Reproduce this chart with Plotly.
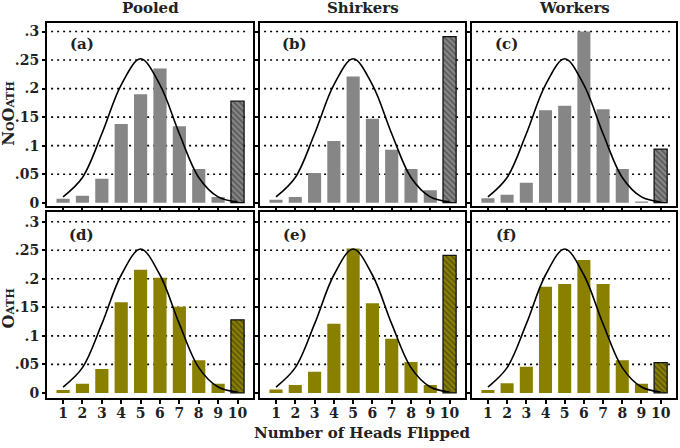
import plotly.graph_objects as go

heads = [1, 2, 3, 4, 5, 6, 7, 8, 9, 10]
tick_labels = ["1", "2", "3", "4", "5", "6", "7", "8", "9", "10"]

pooled_nooath = [0.007, 0.012, 0.042, 0.138, 0.190, 0.235, 0.134, 0.059, 0.010, 0.178]
shirkers_nooath = [0.005, 0.010, 0.052, 0.108, 0.221, 0.147, 0.093, 0.059, 0.022, 0.291]
workers_nooath = [0.008, 0.014, 0.035, 0.162, 0.170, 0.300, 0.164, 0.059, 0.002, 0.094]
pooled_oath = [0.005, 0.016, 0.042, 0.159, 0.216, 0.202, 0.151, 0.057, 0.016, 0.128]
shirkers_oath = [0.006, 0.014, 0.037, 0.121, 0.253, 0.157, 0.095, 0.054, 0.014, 0.241]
workers_oath = [0.005, 0.017, 0.046, 0.186, 0.191, 0.233, 0.191, 0.057, 0.016, 0.053]

# reference (normal) curve read at integer heads
reference_curve = [0.0103, 0.0443, 0.1209, 0.2066, 0.2523, 0.2066, 0.1209, 0.0443, 0.0103, 0.0017]

y_tickvals = [0, 0.05, 0.1, 0.15, 0.2, 0.25, 0.3]
y_ticktext = ["0", ".05", ".1", ".15", ".2", ".25", ".3"]
grid_vals = [0.05, 0.1, 0.15, 0.2, 0.25, 0.3]

col_titles = ["Pooled", "Shirkers", "Workers"]
panel_labels = ["(a)", "(b)", "(c)", "(d)", "(e)", "(f)"]

GREY = "#868686"
OLIVE = "#8a8000"
FONT = "DejaVu Serif"
W, H = 680, 448

col_px = [(47, 253), (260, 465), (472, 676)]
row_px = [(23, 208), (214, 402)]
row_ranges = [[-0.0052, 0.3154], [-0.0081, 0.3177]]

data = [[pooled_nooath, shirkers_nooath, workers_nooath],
        [pooled_oath, shirkers_oath, workers_oath]]
colors = [GREY, OLIVE]

fig = go.Figure()
layout = {}
shapes = []
annotations = []

idx = 0
for r in range(2):
    for c in range(3):
        idx += 1
        xa = "x" if idx == 1 else f"x{idx}"
        ya = "y" if idx == 1 else f"y{idx}"
        xkey = "xaxis" if idx == 1 else f"xaxis{idx}"
        ykey = "yaxis" if idx == 1 else f"yaxis{idx}"
        vals = data[r][c]
        col = colors[r]
        fig.add_trace(go.Bar(
            x=heads, y=vals, xaxis=xa, yaxis=ya, width=0.68,
            marker=dict(
                color=col,
                line=dict(color=["rgba(0,0,0,0)"] * 9 + ["#111111"], width=[0] * 9 + [1.3]),
                pattern=dict(shape=[""] * 9 + ["\\"], fgcolor="#1a1a1a", bgcolor=col,
                             size=4, solidity=0.35),
            ),
            showlegend=False, hoverinfo="skip",
        ))
        fig.add_trace(go.Scatter(
            x=heads, y=reference_curve, xaxis=xa, yaxis=ya, mode="lines",
            line=dict(color="black", width=1.6, shape="spline", smoothing=1.0),
            showlegend=False, hoverinfo="skip",
        ))
        x0, x1 = col_px[c]
        t0, t1 = row_px[r]
        layout[xkey] = dict(
            domain=[x0 / W, x1 / W], range=[0.17, 10.8], anchor=ya,
            tickvals=heads, ticktext=tick_labels, showticklabels=(r == 1),
            ticks="outside", ticklen=4, tickwidth=2, tickcolor="black",
            ticklabelstandoff=-2,
            showline=True, linewidth=2, linecolor="black", mirror=True,
            showgrid=False, zeroline=False, fixedrange=True,
            tickfont=dict(family=FONT, size=14, color="#222", weight="bold"),
        )
        layout[ykey] = dict(
            domain=[1 - t1 / H, 1 - t0 / H], range=row_ranges[r], anchor=xa,
            tickvals=y_tickvals, ticktext=y_ticktext, showticklabels=(c == 0),
            ticks="outside", ticklen=3, tickwidth=2, tickcolor="black",
            showline=True, linewidth=2, linecolor="black", mirror=True,
            showgrid=False, zeroline=False, fixedrange=True,
            tickfont=dict(family=FONT, size=14, color="#222", weight="bold"),
        )
        for g in grid_vals:
            shapes.append(dict(
                type="line", xref=f"{xa} domain", yref=ya, x0=0.02, x1=0.97, y0=g, y1=g,
                line=dict(color="black", width=1.6, dash="2px,4px"), layer="below",
            ))
        annotations.append(dict(
            text=panel_labels[idx - 1], xref=xa, yref=ya, x=1.97, y=0.279 if r == 0 else 0.276,
            xanchor="center", yanchor="middle",
            showarrow=False, font=dict(family=FONT, size=15, color="#222", weight="bold"),
        ))

for c in range(3):
    x0, x1 = col_px[c]
    annotations.append(dict(
        text=col_titles[c], xref="paper", yref="paper", x=(x0 + x1) / 2 / W, y=1 - 8 / H,
        xanchor="center", yanchor="middle",
        showarrow=False, font=dict(family=FONT, size=15, color="#222", weight="bold"),
    ))

sc = "font-size:11px"
annotations.append(dict(
    text=f"N<span style='{sc}'>O</span>O<span style='{sc}'>ATH</span>",
    xref="paper", yref="paper", x=9 / W, y=1 - 115 / H, textangle=-90, showarrow=False,
    xanchor="center", yanchor="middle",
    font=dict(family=FONT, size=16, color="#222", weight="bold"),
))
annotations.append(dict(
    text=f"O<span style='{sc}'>ATH</span>",
    xref="paper", yref="paper", x=9 / W, y=1 - 312 / H, textangle=-90, showarrow=False,
    xanchor="center", yanchor="middle",
    font=dict(family=FONT, size=16, color="#222", weight="bold"),
))
annotations.append(dict(
    text="Number of Heads Flipped", xref="paper", yref="paper", x=362 / W, y=1 - 438 / H,
    xanchor="center", yanchor="middle",
    showarrow=False, font=dict(family=FONT, size=15, color="#222", weight="bold"),
))

fig.update_layout(
    width=W, height=H, margin=dict(l=0, r=0, t=0, b=0),
    paper_bgcolor="white", plot_bgcolor="white",
    shapes=shapes, annotations=annotations, bargap=0, **layout,
)

fig.write_html(
    "out.html",
    config={"displayModeBar": False, "staticPlot": True},
    post_script="document.body.style.margin='0px';document.body.style.overflow='hidden';",
)
